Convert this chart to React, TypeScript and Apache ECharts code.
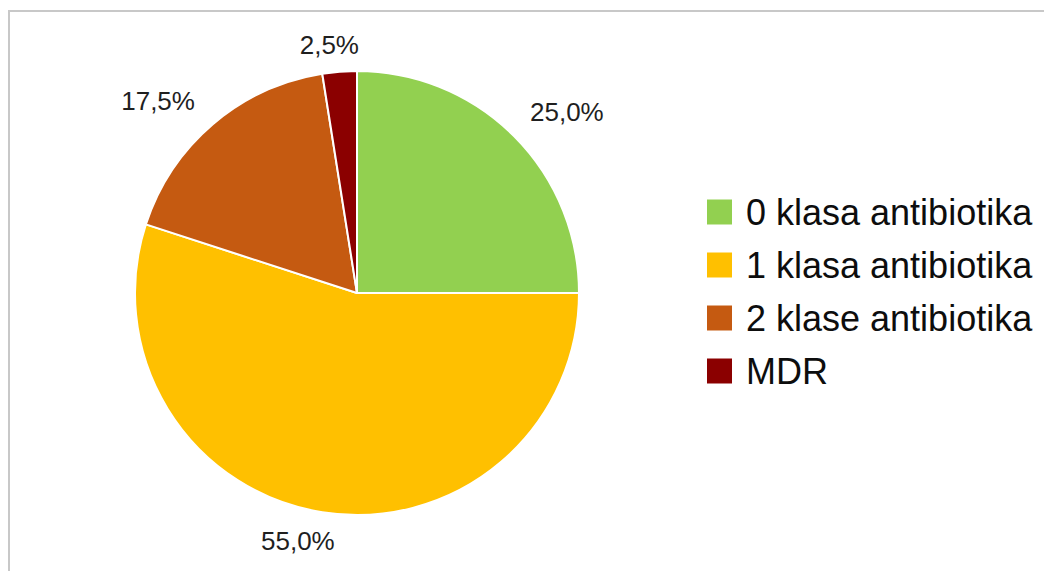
import React, { useEffect, useRef } from "react";
import * as echarts from "echarts";

const categories = ["0 klasa antibiotika", "1 klasa antibiotika", "2 klase antibiotika", "MDR"];
const values = [25.0, 55.0, 17.5, 2.5];
const colors = ["#92D050", "#FFC000", "#C55A11", "#8B0000"];
// label placement tweaks (radial length, horizontal length) per slice
const labelLen = [34, 29, 30.6, 26.7];
const labelLen2 = [-13, -22, -7, -26.5];

export default function App() {
  const ref = useRef<HTMLDivElement>(null);
  useEffect(() => {
    if (!ref.current) return;
    const chart = echarts.init(ref.current, null, { renderer: "svg" });
    chart.setOption({
      animation: false,
      backgroundColor: "#ffffff",
      graphic: [
        {
          type: "rect",
          shape: { x: 9, y: 11, width: 1100, height: 600 },
          style: { fill: "none", stroke: "#c8c8c8", lineWidth: 2 },
          silent: true,
        },
      ],
      legend: {
        orient: "vertical",
        left: 705,
        top: 192,
        padding: 0,
        icon: "rect",
        itemWidth: 27,
        itemHeight: 27,
        itemGap: 13,
        selectedMode: false,
        textStyle: {
          fontFamily: "Liberation Sans, Arial, sans-serif",
          fontSize: 36,
          lineHeight: 40,
          color: "#0d0d0d",
          padding: [0, 0, 0, 8],
        },
        data: categories,
      },
      series: [
        {
          type: "pie",
          center: [357, 293],
          radius: 222,
          startAngle: 90,
          clockwise: true,
          avoidLabelOverlap: false,
          itemStyle: { borderColor: "#ffffff", borderWidth: 2 },
          label: {
            show: true,
            position: "outside",
            fontFamily: "Liberation Sans, Arial, sans-serif",
            fontSize: 26,
            color: "#1f1f1f",
            formatter: (p: any) => p.value.toFixed(1).replace(".", ",") + "%",
          },
          labelLine: { show: false },
          emphasis: { disabled: true },
          data: categories.map((name, i) => ({
            name,
            value: values[i],
            itemStyle: { color: colors[i] },
            labelLine: { show: false, length: labelLen[i], length2: labelLen2[i] },
          })),
        },
      ],
    });
    return () => chart.dispose();
  }, []);
  return (
    <div
      ref={ref}
      style={{ position: "absolute", left: 0, top: 0, width: 1044, height: 571 }}
    />
  );
}
